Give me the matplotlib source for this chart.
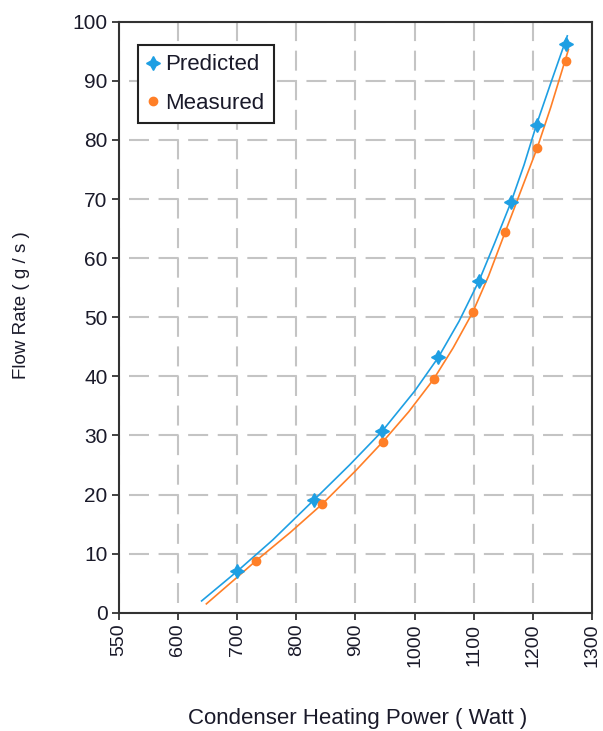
import matplotlib
matplotlib.use("Agg")
import matplotlib.pyplot as plt

plt.rcParams['font.family'] = ['Liberation Sans', 'DejaVu Sans']
plt.rcParams['lines.scale_dashes'] = False

# ---- data ----
x_tick_values = [500, 600, 700, 800, 900, 1000, 1100, 1200, 1300]
x_tick_labels = ["550", "600", "700", "800", "900", "1000", "1100", "1200", "1300"]
y_tick_values = [0, 10, 20, 30, 40, 50, 60, 70, 80, 90, 100]

pred_x = [700, 830, 945, 1040, 1109, 1163, 1207, 1256]
pred_y = [7.0, 19.1, 30.7, 43.2, 56.2, 69.5, 82.6, 96.2]
meas_x = [732, 844, 946, 1032, 1098, 1153, 1207, 1256]
meas_y = [8.8, 18.4, 28.9, 39.5, 50.8, 64.4, 78.6, 93.4]

pred_curve_x = [640, 700, 760, 830, 890, 945, 1000, 1040, 1075, 1109, 1135, 1163, 1185, 1206, 1230, 1258]
pred_curve_y = [2.0, 7.0, 12.3, 19.1, 25.0, 30.7, 37.5, 43.2, 49.3, 56.2, 62.5, 69.5, 75.8, 82.6, 89.6, 97.6]
meas_curve_x = [648, 700, 732, 790, 844, 900, 946, 990, 1032, 1065, 1098, 1125, 1153, 1180, 1207, 1230, 1260]
meas_curve_y = [1.5, 6.0, 8.8, 13.6, 18.4, 24.0, 28.9, 34.0, 39.5, 44.8, 50.8, 57.0, 64.4, 71.5, 78.6, 85.5, 95.3]

BLUE = '#1E9FE3'
ORANGE = '#FF7F27'
TXT = '#1a1a2a'

fig = plt.figure(figsize=(6.03, 7.31), dpi=100)
ax = fig.add_axes([0.197, 0.1618, 0.785, 0.8085])

ax.plot(pred_curve_x, pred_curve_y, color=BLUE, lw=1.2, zorder=3)
ax.plot(meas_curve_x, meas_curve_y, color=ORANGE, lw=1.2, zorder=3)
ax.plot(pred_x, pred_y, linestyle='none', marker=(4, 1, 0), markersize=10,
        color=BLUE, label='Predicted', zorder=4)
ax.plot(meas_x, meas_y, linestyle='none', marker='o', markersize=6,
        color=ORANGE, label='Measured', zorder=4)

ax.set_xlim(500, 1300)
ax.set_ylim(0, 100)
ax.set_xticks(x_tick_values)
ax.set_xticklabels(x_tick_labels, rotation=90)
ax.set_yticks(y_tick_values)

ax.tick_params(axis='both', direction='out', length=5, width=1.2, colors='#222222',
               labelcolor=TXT)
ax.tick_params(axis='x', pad=3, labelsize=14)
ax.tick_params(axis='y', pad=3, labelsize=15)

for s in ax.spines.values():
    s.set_color('#333333')
    s.set_linewidth(1.5)

# dashed gray grid, dashes centred on intersections
on_px, period_px = 20.0, 59.15 / 2
px2pt = 72 / 100
on = on_px * px2pt
off = (period_px - on_px) * px2pt
ax.grid(True, color='#C4C4C4', linewidth=1.5, zorder=0)
for gl in ax.get_xgridlines() + ax.get_ygridlines():
    gl.set_linestyle((on / 2 + off, (on, off)))
ax.set_axisbelow(True)

ax.set_ylabel('Flow Rate ( g / s )', fontsize=13.5, color=TXT)
ax.yaxis.set_label_coords(-0.187, 0.5206)
ax.set_xlabel('Condenser Heating Power ( Watt )', fontsize=16, color=TXT)
ax.xaxis.set_label_coords(0.5035, -0.161)

leg = ax.legend(loc='upper left', bbox_to_anchor=(0.0414, 0.9606), borderaxespad=0,
                fontsize=16, frameon=True, fancybox=False, framealpha=1,
                edgecolor='#222222', handlelength=0.5, handletextpad=0.3,
                labelspacing=0.78, borderpad=0.42, markerscale=1.0)
leg.get_frame().set_linewidth(1.5)
for t in leg.get_texts():
    t.set_color(TXT)

fig.savefig('out.png', dpi=100)
